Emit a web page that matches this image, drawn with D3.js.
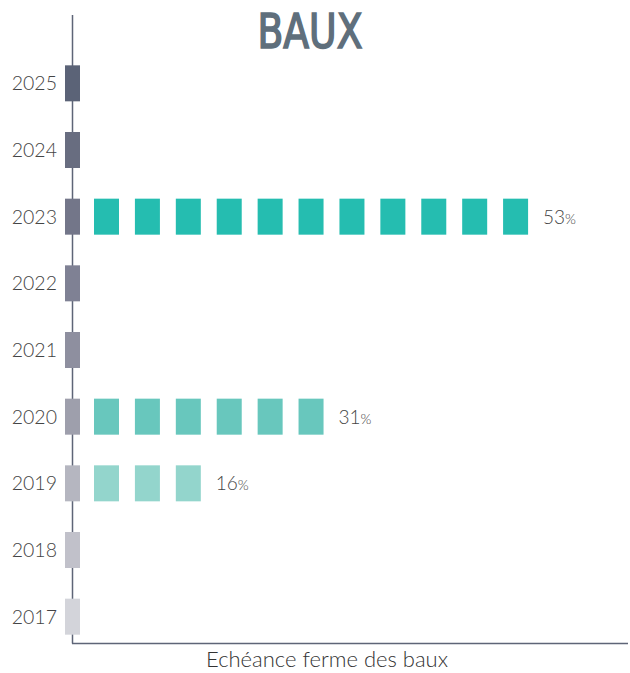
<!DOCTYPE html>
<html>
<head>
<meta charset="utf-8">
<script src="https://cdn.jsdelivr.net/npm/d3@7"></script>
<style>
  body { margin: 0; background: #fff; }
  svg text { font-family: Lato, "Open Sans", sans-serif; }
</style>
</head>
<body>
<div id="chart"></div>
<script>
var years = ["2025", "2024", "2023", "2022", "2021", "2020", "2019", "2018", "2017"];
var shares = [0, 0, 53, 0, 0, 31, 16, 0, 0];
var yearColors = ["#5b6377", "#686d80", "#737689", "#7f8194", "#8e8f9f", "#9e9fac", "#b5b6c0", "#c1c1ca", "#d3d4da"];
var barColors = {"2023": "#25bdb0", "2020": "#68c7bd", "2019": "#93d5cc"};
var unit = 5; // one square = 5%

var width = 630, height = 673;

var svg = d3.select("#chart").append("svg")
    .attr("width", width)
    .attr("height", height);

var y = d3.scaleBand()
    .domain(years)
    .range([50, 650])
    .paddingInner(0.46)
    .paddingOuter(0.23);

var x = d3.scaleLinear()
    .domain([0, 55])
    .range([94, 544]);

// title
svg.append("text")
    .attr("x", 310)
    .attr("y", 48)
    .attr("text-anchor", "middle")
    .attr("textLength", 105)
    .attr("lengthAdjust", "spacingAndGlyphs")
    .style("font-family", "'Liberation Sans Narrow', 'DejaVu Sans Condensed', sans-serif")
    .style("font-size", "48px")
    .style("fill", "#5f6f7c")
    .style("stroke", "#5f6f7c")
    .style("stroke-width", 1.6)
    .text("BAUX");

// axes
svg.append("line")
    .attr("x1", 72.5).attr("x2", 72.5)
    .attr("y1", 15).attr("y2", 643.5)
    .attr("stroke", "#5e6577").attr("stroke-width", 1.5);
svg.append("line")
    .attr("x1", 72).attr("x2", 628)
    .attr("y1", 643.5).attr("y2", 643.5)
    .attr("stroke", "#5e6577").attr("stroke-width", 1.5);

// year markers
svg.append("g").selectAll("rect")
    .data(years).enter()
    .append("rect")
    .attr("x", 65)
    .attr("y", d => y(d))
    .attr("width", 15)
    .attr("height", y.bandwidth())
    .attr("fill", (d, i) => yearColors[i]);

svg.append("g").selectAll("text")
    .data(years).enter()
    .append("text")
    .attr("x", 57)
    .attr("y", d => y(d) + y.bandwidth() / 2 + 7)
    .attr("text-anchor", "end")
    .style("font-size", "19.5px")
    .style("font-weight", 300)
    .style("fill", "#444")
    .text(d => d);

// square bars
var rows = years.map((d, i) => ({ year: d, value: shares[i], n: Math.round(shares[i] / unit) }))
    .filter(d => d.value > 0);

var row = svg.append("g").selectAll("g")
    .data(rows).enter()
    .append("g")
    .attr("transform", d => "translate(0," + y(d.year) + ")");

row.selectAll("rect")
    .data(d => d3.range(d.n).map(k => ({ k: k, year: d.year })))
    .enter()
    .append("rect")
    .attr("x", d => x(d.k * unit))
    .attr("y", 0)
    .attr("width", 25)
    .attr("height", y.bandwidth())
    .attr("fill", d => barColors[d.year]);

var lab = row.append("text")
    .attr("x", d => x(d.n * unit) - 1)
    .attr("y", y.bandwidth() / 2 + 7)
    .style("font-size", "19px")
    .style("font-weight", 300)
    .style("fill", "#444");
lab.append("tspan").text(d => d.value);
lab.append("tspan").style("font-size", "14px").text("%");

// x axis title
svg.append("text")
    .attr("x", 327)
    .attr("y", 667)
    .attr("text-anchor", "middle")
    .style("font-size", "22px")
    .style("font-weight", 300)
    .style("fill", "#333")
    .text("Echéance ferme des baux");
</script>
</body>
</html>
